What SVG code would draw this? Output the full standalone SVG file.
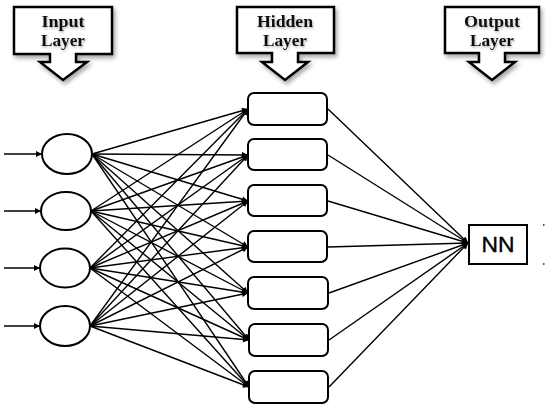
<svg xmlns="http://www.w3.org/2000/svg" width="550" height="408" viewBox="0 0 550 408">
<defs>
<filter id="sh" x="-20%" y="-20%" width="150%" height="150%">
<feDropShadow dx="2" dy="3" stdDeviation="2" flood-color="#000" flood-opacity="0.35"/>
</filter>
<filter id="tsh" x="-20%" y="-20%" width="140%" height="160%">
<feDropShadow dx="1" dy="1.5" stdDeviation="1" flood-color="#000" flood-opacity="0.3"/>
</filter>
<marker id="ah" viewBox="0 0 10 10" refX="10" refY="5" markerWidth="8" markerHeight="6" markerUnits="userSpaceOnUse" orient="auto">
<path d="M0,0 L10,5 L0,10 Z" fill="#000"/>
</marker>
</defs>
<style>
.callout{fill:#fff;stroke:#000;stroke-width:2.5;stroke-linejoin:miter}
.ct{font-family:"Liberation Serif","Times New Roman",serif;font-weight:bold;font-size:16px;text-anchor:middle;fill:#111}
.in{fill:#fff;stroke:#000;stroke-width:2}
.hid{fill:#fff;stroke:#000;stroke-width:2}
.ca{stroke:#000;stroke-width:1.4;fill:none;marker-end:url(#ah)}
.nn{font-family:"Liberation Sans",Arial,sans-serif;font-size:22px;text-anchor:middle;fill:#000;stroke:#000;stroke-width:0.4}
</style>
<rect width="550" height="408" fill="#fff"/>

<g id="label-input">
<path class="callout" filter="url(#sh)" d="M14,7 H112 V54 H76 V62 H87 L63,80 L40,62 H50 V54 H14 Z"/>
<g filter="url(#tsh)">
<text class="ct" x="63" y="27" textLength="43" lengthAdjust="spacingAndGlyphs">Input</text>
<text class="ct" x="63" y="46" textLength="44" lengthAdjust="spacingAndGlyphs">Layer</text>
</g>
</g>
<g id="label-hidden">
<path class="callout" filter="url(#sh)" d="M237,7 H334 V53 H298 V62 H308 L285,80 L262,62 H272 V53 H237 Z"/>
<g filter="url(#tsh)">
<text class="ct" x="285" y="27" textLength="56" lengthAdjust="spacingAndGlyphs">Hidden</text>
<text class="ct" x="285" y="46" textLength="44" lengthAdjust="spacingAndGlyphs">Layer</text>
</g>
</g>
<g id="label-output">
<path class="callout" filter="url(#sh)" d="M445,7 H539 V53 H505 V62 H515 L492,80 L469,62 H479 V53 H445 Z"/>
<g filter="url(#tsh)">
<text class="ct" x="492" y="27" textLength="56" lengthAdjust="spacingAndGlyphs">Output</text>
<text class="ct" x="492" y="46" textLength="44" lengthAdjust="spacingAndGlyphs">Layer</text>
</g>
</g>

<g id="connectors">
<line class="ca" x1="4" y1="154" x2="42" y2="154"/>
<line class="ca" x1="4" y1="211" x2="41" y2="211"/>
<line class="ca" x1="4" y1="268" x2="40" y2="268"/>
<line class="ca" x1="4" y1="326" x2="40" y2="326"/>
<line class="ca" x1="92" y1="154" x2="248" y2="109"/>
<line class="ca" x1="92" y1="154" x2="248" y2="155"/>
<line class="ca" x1="92" y1="154" x2="248" y2="201"/>
<line class="ca" x1="92" y1="154" x2="248" y2="247"/>
<line class="ca" x1="92" y1="154" x2="248" y2="293"/>
<line class="ca" x1="92" y1="154" x2="249" y2="340"/>
<line class="ca" x1="92" y1="154" x2="249" y2="387"/>
<line class="ca" x1="91" y1="211" x2="248" y2="109"/>
<line class="ca" x1="91" y1="211" x2="248" y2="155"/>
<line class="ca" x1="91" y1="211" x2="248" y2="201"/>
<line class="ca" x1="91" y1="211" x2="248" y2="247"/>
<line class="ca" x1="91" y1="211" x2="248" y2="293"/>
<line class="ca" x1="91" y1="211" x2="249" y2="340"/>
<line class="ca" x1="91" y1="211" x2="249" y2="387"/>
<line class="ca" x1="90" y1="268" x2="248" y2="109"/>
<line class="ca" x1="90" y1="268" x2="248" y2="155"/>
<line class="ca" x1="90" y1="268" x2="248" y2="201"/>
<line class="ca" x1="90" y1="268" x2="248" y2="247"/>
<line class="ca" x1="90" y1="268" x2="248" y2="293"/>
<line class="ca" x1="90" y1="268" x2="249" y2="340"/>
<line class="ca" x1="90" y1="268" x2="249" y2="387"/>
<line class="ca" x1="90" y1="326" x2="248" y2="109"/>
<line class="ca" x1="90" y1="326" x2="248" y2="155"/>
<line class="ca" x1="90" y1="326" x2="248" y2="201"/>
<line class="ca" x1="90" y1="326" x2="248" y2="247"/>
<line class="ca" x1="90" y1="326" x2="248" y2="293"/>
<line class="ca" x1="90" y1="326" x2="249" y2="340"/>
<line class="ca" x1="90" y1="326" x2="249" y2="387"/>
<line class="ca" x1="328" y1="109" x2="468" y2="243"/>
<line class="ca" x1="328" y1="155" x2="468" y2="243"/>
<line class="ca" x1="328" y1="201" x2="468" y2="243"/>
<line class="ca" x1="328" y1="247" x2="468" y2="243"/>
<line class="ca" x1="329" y1="293" x2="468" y2="243"/>
<line class="ca" x1="329" y1="340" x2="468" y2="243"/>
<line class="ca" x1="329" y1="387" x2="468" y2="243"/>
</g>

<g id="in1"><ellipse class="in" cx="67" cy="154" rx="25" ry="20"/></g>
<g id="in2"><ellipse class="in" cx="66" cy="211" rx="25" ry="19"/></g>
<g id="in3"><ellipse class="in" cx="65" cy="268" rx="25" ry="19.5"/></g>
<g id="in4"><ellipse class="in" cx="65" cy="326" rx="25" ry="20"/></g>

<g id="h1"><rect class="hid" x="248" y="93" width="79" height="32" rx="6"/></g>
<g id="h2"><rect class="hid" x="248" y="139" width="79" height="31" rx="6"/></g>
<g id="h3"><rect class="hid" x="248" y="185" width="79" height="31" rx="6"/></g>
<g id="h4"><rect class="hid" x="248" y="231" width="79" height="31" rx="6"/></g>
<g id="h5"><rect class="hid" x="248" y="277" width="80" height="32" rx="6"/></g>
<g id="h6"><rect class="hid" x="249" y="324" width="79" height="32" rx="6"/></g>
<g id="h7"><rect class="hid" x="249" y="371" width="79" height="32" rx="6"/></g>

<g id="nn">
<rect x="469" y="225" width="58" height="39" fill="#fff" stroke="#000" stroke-width="2"/>
<text class="nn" x="498" y="252" textLength="33" lengthAdjust="spacingAndGlyphs">NN</text>
</g>
<rect x="543" y="224" width="1.5" height="2" fill="#555"/>
<rect x="543" y="263" width="1.5" height="2" fill="#555"/>
</svg>
